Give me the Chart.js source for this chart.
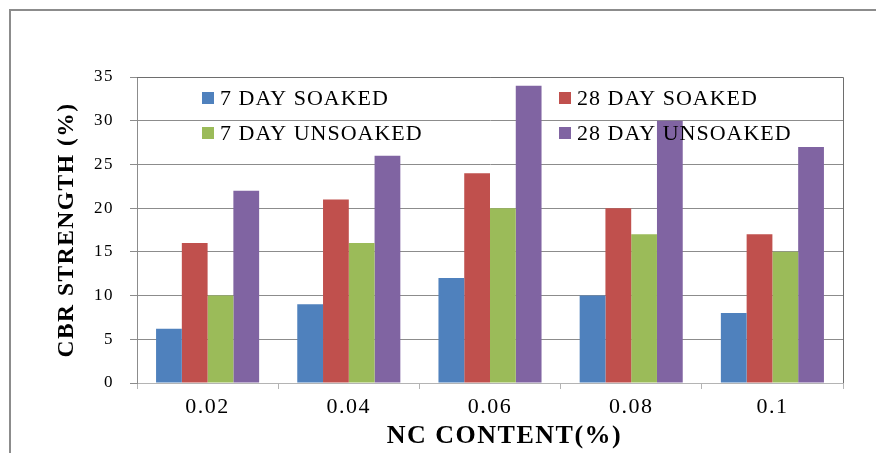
<!DOCTYPE html>
<html>
<head>
<meta charset="utf-8">
<script src="https://cdn.jsdelivr.net/npm/chart.js@4/dist/chart.umd.min.js"></script>
<style>
  html, body { margin: 0; padding: 0; background: #fff; }
  #wrap { width: 876px; height: 453px; }
</style>
</head>
<body>
<div id="wrap"><canvas id="cbr" width="876" height="453"></canvas></div>
<script>
// NC content (%) on the x axis
const categories = ['0.02', '0.04', '0.06', '0.08', '0.1'];

// CBR strength (%) for each curing / soaking condition
const soaked7 = [6.2, 9, 12, 10, 8];
const soaked28 = [16, 21, 24, 20, 17];
const unsoaked7 = [10, 16, 20, 17, 15];
const unsoaked28 = [22, 26, 34, 30, 27];

const seriesNames = ['7 DAY SOAKED', '28 DAY SOAKED', '7 DAY UNSOAKED', '28 DAY UNSOAKED'];
const seriesColors = ['#4F81BD', '#C0504D', '#9BBB59', '#8064A2'];

const yTicks = { min: 0, max: 35, step: 5 };

const serif = "'Liberation Serif', 'Times New Roman', serif";

// Outer frame around the figure; also sets the slightly open letter spacing
const framePlugin = {
  id: 'frame',
  beforeDraw(chart) {
    const ctx = chart.ctx;
    ctx.fillStyle = '#fff';
    ctx.fillRect(0, 0, chart.width, chart.height);
    ctx.save();
    ctx.strokeStyle = '#8c8c8c';
    ctx.lineWidth = 2;
    ctx.beginPath();
    ctx.moveTo(10, chart.height);
    ctx.lineTo(10, 10);
    ctx.lineTo(chart.width, 10);
    ctx.stroke();
    ctx.restore();
    ctx.letterSpacing = '1.5px';
  }
};

// Plot-area border on the top and right sides
const plotBorderPlugin = {
  id: 'plotBorder',
  afterDatasetsDraw(chart) {
    const { ctx, chartArea: a } = chart;
    ctx.save();
    ctx.strokeStyle = '#6e6e6e';
    ctx.lineWidth = 1;
    ctx.beginPath();
    ctx.moveTo(a.left, a.top + 0.5);
    ctx.lineTo(a.right + 0.5, a.top + 0.5);
    ctx.lineTo(a.right + 0.5, a.bottom);
    ctx.stroke();
    ctx.restore();
  }
};

// Two-column legend drawn inside the plot area, on top of the bars
const innerLegendPlugin = {
  id: 'innerLegend',
  afterDatasetsDraw(chart) {
    const { ctx, chartArea: a } = chart;
    const cols = [a.left + 65, a.left + 422];
    const rows = [a.top + 21, a.top + 56];
    const box = 12;
    ctx.save();
    ctx.font = '22px ' + serif;
    ctx.letterSpacing = '1px';
    ctx.textBaseline = 'middle';
    ctx.textAlign = 'left';
    chart.data.datasets.forEach((ds, i) => {
      const x = cols[i % 2];
      const y = rows[Math.floor(i / 2)];
      ctx.fillStyle = ds.backgroundColor;
      ctx.fillRect(x, y - box / 2, box, box);
      ctx.fillStyle = '#000';
      ctx.fillText(ds.label, x + box + 6, y + 1);
    });
    ctx.restore();
  }
};

const data = {
  labels: categories,
  datasets: [soaked7, soaked28, unsoaked7, unsoaked28].map((values, i) => ({
    label: seriesNames[i],
    data: values,
    backgroundColor: seriesColors[i],
    borderWidth: 0,
    categoryPercentage: 0.73,
    barPercentage: 1.0
  }))
};

new Chart(document.getElementById('cbr'), {
  type: 'bar',
  data,
  plugins: [framePlugin, plotBorderPlugin, innerLegendPlugin],
  options: {
    responsive: false,
    devicePixelRatio: 1,
    animation: false,
    layout: { padding: { top: 77, right: 33, left: 0, bottom: 0 } },
    plugins: {
      legend: { display: false },
      tooltip: { enabled: false }
    },
    scales: {
      x: {
        grid: {
          drawOnChartArea: false,
          drawTicks: true,
          tickLength: 6,
          color: '#b4b4b4',
          offset: true
        },
        border: { display: true, color: '#b4b4b4', width: 1 },
        ticks: {
          color: '#000',
          font: { family: serif, size: 22 },
          padding: 5
        },
        title: {
          display: true,
          // leading en spaces nudge the centred title a little to the right
          text: '\u2002\u2002NC CONTENT(%)',
          color: '#000',
          font: { family: serif, size: 26, weight: 'bold', lineHeight: 1 },
          padding: { top: 0, bottom: 4 }
        },
        afterFit(scale) { scale.height = 70; }
      },
      y: {
        min: yTicks.min,
        max: yTicks.max,
        grid: {
          color: '#8c8c8c',
          drawTicks: true,
          tickLength: 7
        },
        border: { display: true, color: '#8c8c8c', width: 1 },
        ticks: {
          stepSize: yTicks.step,
          color: '#000',
          font: { family: serif, size: 17 },
          padding: 16
        },
        title: {
          display: true,
          text: 'CBR STRENGTH (%)',
          color: '#000',
          font: { family: serif, size: 23.5, weight: 'bold', lineHeight: 1 },
          padding: { top: 55, bottom: 0 }
        },
        afterFit(scale) { scale.width = 137; }
      }
    }
  }
});
</script>
</body>
</html>
